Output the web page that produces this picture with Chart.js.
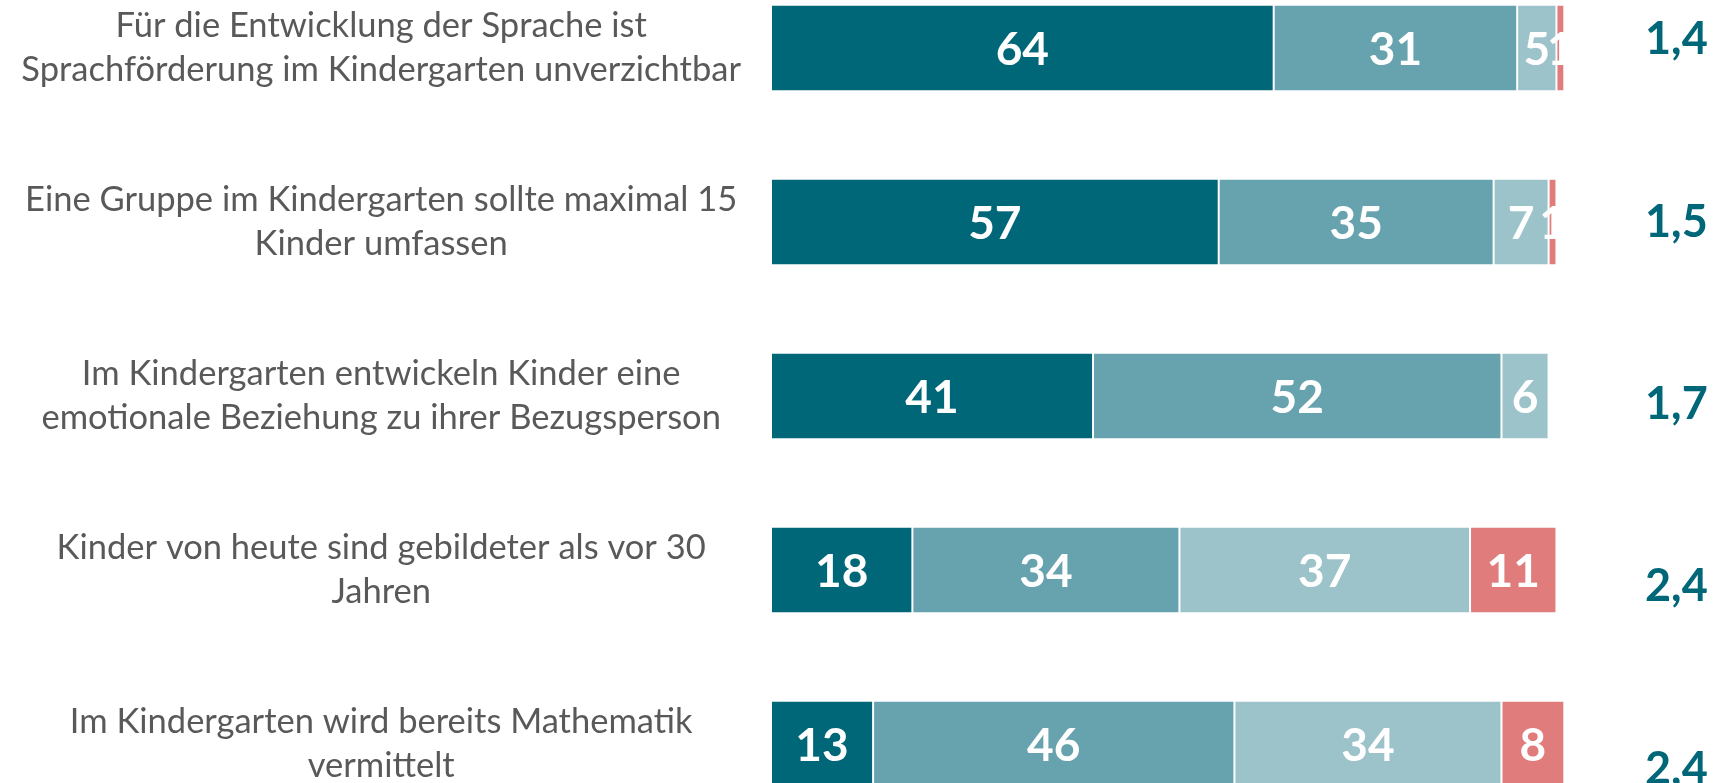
<!DOCTYPE html>
<html>
<head>
<meta charset="utf-8">
<script src="https://cdn.jsdelivr.net/npm/chart.js@4/dist/chart.umd.min.js"></script>
<style>
  html, body { margin: 0; padding: 0; background: #ffffff; overflow: hidden; width: 1719px; height: 783px; }
  #wrap { position: absolute; left: 0; top: -39px; width: 1719px; height: 870px; }
</style>
</head>
<body>
<div id="wrap"><canvas id="c" width="1719" height="870"></canvas></div>
<script>
const categories = [
  ["Für die Entwicklung der Sprache ist", "Sprachförderung im Kindergarten unverzichtbar"],
  ["Eine Gruppe im Kindergarten sollte maximal 15", "Kinder umfassen"],
  ["Im Kindergarten entwickeln Kinder eine", "emotionale Beziehung zu ihrer Bezugsperson"],
  ["Kinder von heute sind gebildeter als vor 30", "Jahren"],
  ["Im Kindergarten wird bereits Mathematik", "vermittelt"]
];
const seriesDark  = [64, 57, 41, 18, 13];
const seriesMid   = [31, 35, 52, 34, 46];
const seriesLight = [5, 7, 6, 37, 34];
const seriesRed   = [1, 1, 0, 11, 8];
const meanValues  = [1.4, 1.5, 1.7, 2.4, 2.4];

const colDark = '#006778', colMid = '#67A3AE', colLight = '#9CC3CA', colRed = '#E07C7C';

function ds(data, color) {
  return {
    data: data,
    backgroundColor: color,
    borderColor: '#ffffff',
    borderWidth: { top: 0, bottom: 0, left: 1, right: 1 },
    borderSkipped: false,
    categoryPercentage: 1,
    barPercentage: 0.488,
    yAxisID: 'y',
    xAxisID: 'x'
  };
}

const valueLabels = {
  id: 'valueLabels',
  afterDatasetsDraw(chart) {
    const ctx = chart.ctx;
    ctx.save();
    ctx.font = 'bold 46px Lato';
    ctx.fillStyle = '#ffffff';
    ctx.textAlign = 'center';
    ctx.textBaseline = 'middle';
    chart.data.datasets.forEach((d, di) => {
      const meta = chart.getDatasetMeta(di);
      meta.data.forEach((el, i) => {
        const v = d.data[i];
        if (!v) return;
        const p = el.getProps(['x', 'base', 'y'], true);
        ctx.fillText(String(v), (p.x + p.base) / 2, p.y + 2);
      });
    });
    ctx.restore();
  }
};

const meanLabels = {
  id: 'meanLabels',
  afterDraw(chart) {
    const ctx = chart.ctx;
    const ys = chart.scales.yMean;
    ctx.save();
    ctx.font = 'bold 45px Lato';
    ctx.fillStyle = '#006778';
    ctx.textAlign = 'left';
    ctx.textBaseline = 'middle';
    meanValues.forEach((m, i) => {
      ctx.fillText(m.toFixed(1).replace('.', ','), ys.left + 10, ys.getPixelForValue(i) + 2);
    });
    ctx.restore();
  }
};

function noVPad(scale) { scale.paddingTop = 0; scale.paddingBottom = 0; }

new Chart(document.getElementById('c'), {
  type: 'bar',
  data: {
    labels: categories,
    datasets: [ds(seriesDark, colDark), ds(seriesMid, colMid), ds(seriesLight, colLight), ds(seriesRed, colRed)]
  },
  options: {
    indexAxis: 'y',
    responsive: false,
    animation: false,
    layout: { padding: 0 },
    plugins: { legend: { display: false }, tooltip: { enabled: false } },
    scales: {
      x: { type: 'linear', stacked: true, min: 0, max: 110, display: false },
      y: {
        type: 'category',
        stacked: true,
        position: 'left',
        grid: { display: false, drawTicks: false },
        border: { display: false },
        afterFit(scale) { scale.width = 771; noVPad(scale); },
        ticks: {
          crossAlign: 'center',
          padding: 30,
          color: '#595959',
          font: { family: 'Lato', size: 34.5, lineHeight: 1.275 }
        }
      },
      yMean: {
        type: 'linear',
        position: 'right',
        reverse: true,
        min: -0.203,
        max: 4.132,
        grid: { display: false, drawTicks: false },
        border: { display: false },
        ticks: { display: false },
        afterFit(scale) { scale.width = 84; noVPad(scale); }
      }
    }
  },
  plugins: [valueLabels, meanLabels]
});
</script>
</body>
</html>
